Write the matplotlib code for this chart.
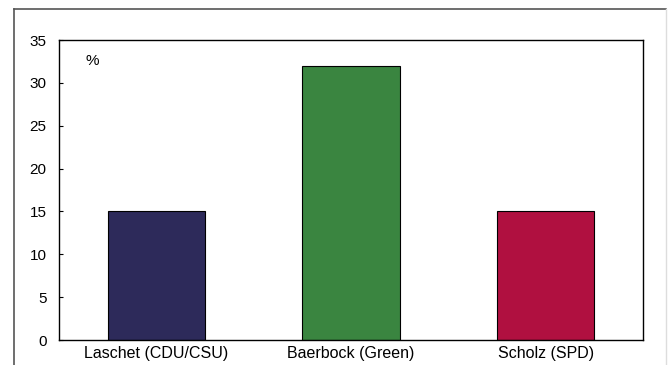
import matplotlib.pyplot as plt
from matplotlib.lines import Line2D

plt.rcParams['font.family'] = ['Liberation Sans', 'DejaVu Sans']

candidates = ['Laschet (CDU/CSU)', 'Baerbock (Green)', 'Scholz (SPD)']
share = [15, 32, 15]
colors = ['#2d2a5a', '#3a8540', '#b01040']
yticks = [0, 5, 10, 15, 20, 25, 30, 35]

W, H = 668, 365
fig = plt.figure(figsize=(W / 100, H / 100), dpi=100)
ax = fig.add_axes([59 / W, 1 - 340 / H, (643 - 59) / W, (340 - 40) / H])

x = range(len(candidates))
ax.bar(x, share, width=0.5, color=colors, edgecolor='black', linewidth=0.8)
ax.set_xlim(-0.5, 2.5)
ax.set_ylim(0, 35)
ax.set_yticks(yticks)
ax.set_xticks(list(x))
ax.set_xticklabels(candidates)
ax.tick_params(axis='y', direction='in', length=3, labelsize=11, pad=9)
ax.tick_params(axis='x', length=0, labelsize=11.5, pad=4)
for s in ax.spines.values():
    s.set_linewidth(1.0)
ax.text(0.045, 0.93, '%', transform=ax.transAxes, fontsize=11, va='center')

# outer frame of the original panel
fig.add_artist(Line2D([13.5 / W, 13.5 / W], [0, 1 - 9 / H], color='#555555', lw=1.2))
fig.add_artist(Line2D([13.5 / W, 666 / W], [1 - 9 / H, 1 - 9 / H], color='#555555', lw=1.2))
fig.add_artist(Line2D([666 / W, 666 / W], [0, 1 - 9 / H], color='#dddddd', lw=1.0))

fig.savefig('out.png', dpi=100)
